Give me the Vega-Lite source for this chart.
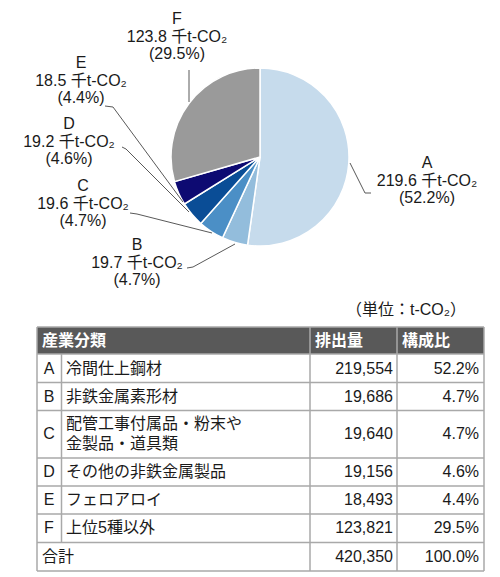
{
  "$schema": "https://vega.github.io/schema/vega-lite/v6.json",
  "width": 500,
  "height": 577,
  "autosize": {"type": "fit", "contains": "padding"},
  "padding": 0,
  "background": "white",
  "config": {"view": {"stroke": null}, "font": "Liberation Sans, Noto Sans CJK JP, sans-serif"},
  "datasets": {
    "slices": [
      {"code": "A", "name": "冷間仕上鋼材", "amount": 219554, "share": 52.2, "kt": "219.6 千t-CO₂", "pct": "(52.2%)"},
      {"code": "B", "name": "非鉄金属素形材", "amount": 19686, "share": 4.7, "kt": "19.7 千t-CO₂", "pct": "(4.7%)"},
      {"code": "C", "name": "配管工事付属品・粉末や\n金製品・道具類", "amount": 19640, "share": 4.7, "kt": "19.6 千t-CO₂", "pct": "(4.7%)"},
      {"code": "D", "name": "その他の非鉄金属製品", "amount": 19156, "share": 4.6, "kt": "19.2 千t-CO₂", "pct": "(4.6%)"},
      {"code": "E", "name": "フェロアロイ", "amount": 18493, "share": 4.4, "kt": "18.5 千t-CO₂", "pct": "(4.4%)"},
      {"code": "F", "name": "上位5種以外", "amount": 123821, "share": 29.5, "kt": "123.8 千t-CO₂", "pct": "(29.5%)"}
    ],
    "totals": [
      {"code": "合計", "amountText": "420,350", "shareText": "100.0%"}
    ],
    "labelLayout": [
      {"code": "A", "cx": 427, "cy": 163},
      {"code": "B", "cx": 137, "cy": 245},
      {"code": "C", "cx": 83, "cy": 186},
      {"code": "D", "cx": 69, "cy": 124},
      {"code": "E", "cx": 81, "cy": 63},
      {"code": "F", "cx": 177, "cy": 19}
    ],
    "leaders": [
      {"code": "F", "seq": 1, "px": 189, "py": 70},
      {"code": "F", "seq": 2, "px": 189, "py": 102},
      {"code": "E", "seq": 1, "px": 105, "py": 106},
      {"code": "E", "seq": 2, "px": 113, "py": 107},
      {"code": "E", "seq": 3, "px": 183, "py": 202},
      {"code": "D", "seq": 1, "px": 122, "py": 147},
      {"code": "D", "seq": 2, "px": 126, "py": 149},
      {"code": "D", "seq": 3, "px": 189, "py": 212},
      {"code": "C", "seq": 1, "px": 130, "py": 213},
      {"code": "C", "seq": 2, "px": 137, "py": 214},
      {"code": "C", "seq": 3, "px": 212, "py": 233},
      {"code": "B", "seq": 1, "px": 187, "py": 268},
      {"code": "B", "seq": 2, "px": 193, "py": 267},
      {"code": "B", "seq": 3, "px": 235, "py": 244},
      {"code": "A", "seq": 1, "px": 350, "py": 163},
      {"code": "A", "seq": 2, "px": 365, "py": 193},
      {"code": "A", "seq": 3, "px": 371, "py": 193}
    ],
    "rowLayout": [
      {"code": "A", "mid": 368.5},
      {"code": "B", "mid": 396.5},
      {"code": "C", "mid": 424},
      {"code": "D", "mid": 472},
      {"code": "E", "mid": 500},
      {"code": "F", "mid": 528},
      {"code": "合計", "mid": 557}
    ],
    "codeLayout": [
      {"code": "A", "mid": 368.5},
      {"code": "B", "mid": 396.5},
      {"code": "C", "mid": 434},
      {"code": "D", "mid": 472},
      {"code": "E", "mid": 500},
      {"code": "F", "mid": 528},
      {"code": "合計", "mid": 557}
    ],
    "header": [
      {"title": "産業分類", "left": 42},
      {"title": "排出量", "left": 315},
      {"title": "構成比", "left": 402}
    ],
    "gridH": [
      {"gy": 327, "gx1": 37, "gx2": 484},
      {"gy": 354, "gx1": 37, "gx2": 484},
      {"gy": 382.5, "gx1": 37, "gx2": 484},
      {"gy": 410.5, "gx1": 37, "gx2": 484},
      {"gy": 458, "gx1": 37, "gx2": 484},
      {"gy": 486, "gx1": 37, "gx2": 484},
      {"gy": 514, "gx1": 37, "gx2": 484},
      {"gy": 542.5, "gx1": 37, "gx2": 484},
      {"gy": 571, "gx1": 37, "gx2": 484}
    ],
    "gridV": [
      {"gx": 37, "gy1": 327, "gy2": 571},
      {"gx": 61.5, "gy1": 354, "gy2": 542.5},
      {"gx": 310, "gy1": 327, "gy2": 571},
      {"gx": 397, "gy1": 327, "gy2": 571},
      {"gx": 484, "gy1": 327, "gy2": 571}
    ]
  },
  "layer": [
    {
      "data": {"name": "slices"},
      "mark": {"type": "arc", "outerRadius": 89, "stroke": "white", "strokeWidth": 1.5},
      "encoding": {
        "theta": {"field": "amount", "type": "quantitative", "stack": true},
        "order": {"field": "code", "type": "nominal", "sort": "ascending"},
        "color": {
          "field": "code", "type": "nominal", "legend": null,
          "scale": {"domain": ["A", "B", "C", "D", "E", "F"], "range": ["#c6dbec", "#93bddc", "#4b8fc6", "#0a4d96", "#0d0a72", "#9a9a9a"]}
        },
        "x": {"datum": 260, "type": "quantitative", "scale": {"domain": [0, 500], "nice": false, "zero": false}, "axis": null},
        "y": {"datum": 157, "type": "quantitative", "scale": {"domain": [0, 577], "nice": false, "zero": false, "reverse": true}, "axis": null}
      }
    },
    {
      "data": {"name": "leaders"},
      "mark": {"type": "line", "stroke": "#595959", "strokeWidth": 1},
      "encoding": {
        "x": {"field": "px", "type": "quantitative"},
        "y": {"field": "py", "type": "quantitative"},
        "detail": {"field": "code"},
        "order": {"field": "seq", "type": "quantitative"}
      }
    },
    {
      "data": {"name": "slices"},
      "transform": [
        {"lookup": "code", "from": {"data": {"name": "labelLayout"}, "key": "code", "fields": ["cx", "cy"]}},
        {"calculate": "datum.code + '\\n' + datum.kt + '\\n' + datum.pct", "as": "labelText"}
      ],
      "mark": {"type": "text", "fontSize": 16, "lineBreak": "\n", "lineHeight": 17.5, "align": "center", "baseline": "middle", "color": "#1a1a1a"},
      "encoding": {
        "x": {"field": "cx", "type": "quantitative"},
        "y": {"field": "cy", "type": "quantitative"},
        "text": {"field": "labelText", "type": "nominal"}
      }
    },
    {
      "data": {"values": [{"unit": "（単位：t-CO₂）"}]},
      "mark": {"type": "text", "fontSize": 16, "align": "right", "baseline": "middle", "color": "#1a1a1a"},
      "encoding": {
        "x": {"datum": 466, "type": "quantitative"},
        "y": {"datum": 310, "type": "quantitative"},
        "text": {"field": "unit", "type": "nominal"}
      }
    },
    {
      "data": {"values": [{"band": "header"}]},
      "mark": {"type": "rect", "color": "#595959"},
      "encoding": {
        "x": {"datum": 37, "type": "quantitative"},
        "x2": {"datum": 484},
        "y": {"datum": 327, "type": "quantitative"},
        "y2": {"datum": 354}
      }
    },
    {
      "data": {"name": "gridH"},
      "mark": {"type": "rule", "color": "#a9a9a9", "strokeWidth": 1.5},
      "encoding": {
        "x": {"field": "gx1", "type": "quantitative"},
        "x2": {"field": "gx2"},
        "y": {"field": "gy", "type": "quantitative"}
      }
    },
    {
      "data": {"name": "gridV"},
      "mark": {"type": "rule", "color": "#a9a9a9", "strokeWidth": 1.5},
      "encoding": {
        "x": {"field": "gx", "type": "quantitative"},
        "y": {"field": "gy1", "type": "quantitative"},
        "y2": {"field": "gy2"}
      }
    },
    {
      "data": {"name": "header"},
      "mark": {"type": "text", "fontSize": 16, "fontWeight": "bold", "align": "left", "baseline": "middle", "color": "white"},
      "encoding": {
        "x": {"field": "left", "type": "quantitative"},
        "y": {"datum": 340.5, "type": "quantitative"},
        "text": {"field": "title", "type": "nominal"}
      }
    },
    {
      "data": {"name": "slices"},
      "transform": [{"lookup": "code", "from": {"data": {"name": "codeLayout"}, "key": "code", "fields": ["mid"]}}],
      "mark": {"type": "text", "fontSize": 16, "align": "center", "baseline": "middle", "color": "#1a1a1a"},
      "encoding": {
        "x": {"datum": 49, "type": "quantitative"},
        "y": {"field": "mid", "type": "quantitative"},
        "text": {"field": "code", "type": "nominal"}
      }
    },
    {
      "data": {"name": "slices"},
      "transform": [{"lookup": "code", "from": {"data": {"name": "rowLayout"}, "key": "code", "fields": ["mid"]}}],
      "mark": {"type": "text", "fontSize": 16, "align": "left", "baseline": "middle", "lineBreak": "\n", "lineHeight": 20, "color": "#1a1a1a"},
      "encoding": {
        "x": {"datum": 66, "type": "quantitative"},
        "y": {"field": "mid", "type": "quantitative"},
        "text": {"field": "name", "type": "nominal"}
      }
    },
    {
      "data": {"name": "slices"},
      "transform": [{"lookup": "code", "from": {"data": {"name": "codeLayout"}, "key": "code", "fields": ["mid"]}}],
      "mark": {"type": "text", "fontSize": 16, "align": "right", "baseline": "middle", "color": "#1a1a1a"},
      "encoding": {
        "x": {"datum": 393, "type": "quantitative"},
        "y": {"field": "mid", "type": "quantitative"},
        "text": {"field": "amount", "type": "quantitative", "format": ","}
      }
    },
    {
      "data": {"name": "slices"},
      "transform": [
        {"lookup": "code", "from": {"data": {"name": "codeLayout"}, "key": "code", "fields": ["mid"]}},
        {"calculate": "format(datum.share, '.1f') + '%'", "as": "shareText"}
      ],
      "mark": {"type": "text", "fontSize": 16, "align": "right", "baseline": "middle", "color": "#1a1a1a"},
      "encoding": {
        "x": {"datum": 479, "type": "quantitative"},
        "y": {"field": "mid", "type": "quantitative"},
        "text": {"field": "shareText", "type": "nominal"}
      }
    },
    {
      "data": {"name": "totals"},
      "transform": [{"lookup": "code", "from": {"data": {"name": "codeLayout"}, "key": "code", "fields": ["mid"]}}],
      "mark": {"type": "text", "fontSize": 16, "align": "left", "baseline": "middle", "color": "#1a1a1a"},
      "encoding": {
        "x": {"datum": 42, "type": "quantitative"},
        "y": {"field": "mid", "type": "quantitative"},
        "text": {"field": "code", "type": "nominal"}
      }
    },
    {
      "data": {"name": "totals"},
      "transform": [{"lookup": "code", "from": {"data": {"name": "codeLayout"}, "key": "code", "fields": ["mid"]}}],
      "mark": {"type": "text", "fontSize": 16, "align": "right", "baseline": "middle", "color": "#1a1a1a"},
      "encoding": {
        "x": {"datum": 393, "type": "quantitative"},
        "y": {"field": "mid", "type": "quantitative"},
        "text": {"field": "amountText", "type": "nominal"}
      }
    },
    {
      "data": {"name": "totals"},
      "transform": [{"lookup": "code", "from": {"data": {"name": "codeLayout"}, "key": "code", "fields": ["mid"]}}],
      "mark": {"type": "text", "fontSize": 16, "align": "right", "baseline": "middle", "color": "#1a1a1a"},
      "encoding": {
        "x": {"datum": 479, "type": "quantitative"},
        "y": {"field": "mid", "type": "quantitative"},
        "text": {"field": "shareText", "type": "nominal"}
      }
    }
  ]
}
